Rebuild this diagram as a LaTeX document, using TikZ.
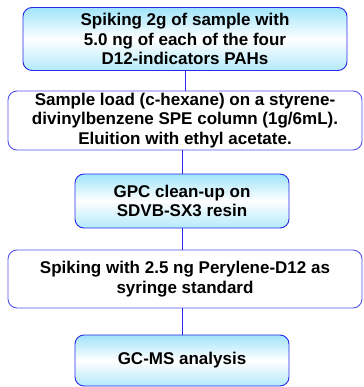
\documentclass[tikz,border=0pt]{standalone}
\usepackage{fontspec}
\setmainfont{Liberation Sans}
\definecolor{boxline}{RGB}{40,40,235}
\definecolor{boxcyan}{RGB}{160,228,250}
\tikzset{
    fillbox/.style={draw=boxline, line width=0.9pt, rounded corners=9pt, align=center,
        top color=boxcyan, bottom color=boxcyan!80, middle color=white,
        font=\bfseries\fontsize{17}{19.5}\selectfont, inner sep=0pt},
    plainbox/.style={draw=boxline!80, line width=0.9pt, rounded corners=9pt, align=center,
        fill=white, font=\bfseries\fontsize{17}{19.5}\selectfont, inner sep=0pt},
    link/.style={draw=boxline, line width=0.9pt}
}
\begin{document}
\begin{tikzpicture}[x=1pt, y=-1pt]
    % Bordi
    \useasboundingbox (0,0) rectangle (363,387);

    % Passi del procedimento
    \node[fillbox, minimum width=324pt, minimum height=63pt] (spike) at (185,39)
        {Spiking 2g of sample with\\5.0 ng of each of the four\\D12-indicators PAHs};
    \node[plainbox, minimum width=354pt, minimum height=59pt] (spe) at (185,120.5)
        {Sample load (c-hexane) on a styrene-\\divinylbenzene SPE column (1g/6mL).\\Eluition with ethyl acetate.};
    \node[fillbox, minimum width=214pt, minimum height=54pt] (gpc) at (182,201)
        {GPC clean-up on\\SDVB-SX3 resin};
    \node[plainbox, minimum width=354pt, minimum height=58pt] (syr) at (185,279)
        {Spiking with 2.5 ng Perylene-D12 as\\syringe standard};
    \node[fillbox, minimum width=214pt, minimum height=51pt] (gcms) at (182,360.5)
        {GC-MS analysis};

    % Collegamenti
    \draw[link] (spike.south) -- (spike.south |- spe.north);
    \draw[link] (gpc.north) -- (gpc.north |- spe.south);
    \draw[link] (gpc.south) -- (gpc.south |- syr.north);
    \draw[link] (gcms.north) -- (gcms.north |- syr.south);
\end{tikzpicture}
\end{document}
